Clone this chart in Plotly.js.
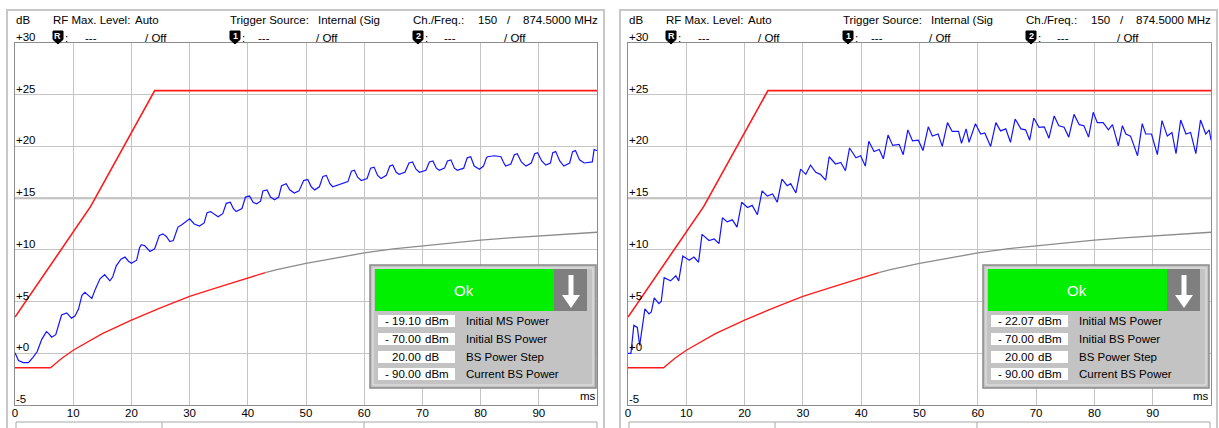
<!DOCTYPE html>
<html><head><meta charset="utf-8">
<script src="https://cdn.plot.ly/plotly-3.0.1.min.js"></script>
<style>html,body{margin:0;padding:0;background:#fff;overflow:hidden}#chart{width:1219px;height:428px}</style>
</head><body><div id="chart"></div>
<script>
// ---------------- data ----------------
const xTickVals = [0,10,20,30,40,50,60,70,80,90];
const xTickText = ['0','10','20','30','40','50','60','70','80','90'];
const yTickVals = [30,25,20,15,10,5,0,-5];
const yTickText = ['+30','+25','+20','+15','+10','+5','+0','-5'];

const upperLimitMs = [0, 13, 24, 100];
const upperLimitDb = [3.5, 14.2, 25.4, 25.4];

const lowerLimitMs = [0,6.1,8,10,15,20,25,30,35,40,43,45,50,55,60,65,70,75,80,85,90,95,100];
const lowerLimitDb = [-1.4,-1.4,-0.5,0.3,1.9,3.2,4.4,5.5,6.4,7.3,7.8,8.1,8.7,9.2,9.7,10.1,10.4,10.7,10.95,11.15,11.35,11.55,11.7];
const lowerRedUntilMs = 43;

const leftMeasMs = [0,0.6,1.4,2.3,3.1,3.8,4.6,5.4,5.8,6.3,7.0,7.5,8.0,8.9,9.7,10.3,10.9,11.5,12.0,12.6,13.2,13.8,14.6,15.4,16.3,16.8,17.4,18.2,18.9,19.5,20.0,20.9,21.4,21.7,22.3,23.2,24.0,24.8,25.4,26.0,26.6,27.2,28.0,28.6,30.0,30.8,31.7,32.5,33.0,33.6,34.3,34.9,35.7,36.3,37.0,37.5,38.0,39.0,39.6,40.3,40.9,41.5,42.2,42.6,43.3,43.9,44.6,45.3,45.8,46.6,47.2,48.0,48.8,49.6,50.3,50.9,51.5,52.3,52.9,53.5,54.1,54.6,57.2,57.8,58.3,58.9,59.5,60.5,61.1,61.7,62.3,62.9,63.8,64.4,64.9,65.5,66.0,67.0,67.7,68.3,68.9,69.5,70.6,71.2,71.8,72.4,72.9,73.8,74.3,74.9,75.5,76.0,77.1,77.7,78.3,78.9,79.8,80.5,81.0,81.2,82.4,83.5,83.9,84.3,85.2,85.8,86.3,87.0,87.8,88.7,89.3,89.8,90.5,91.2,92.0,92.4,92.9,93.6,94.3,95.3,95.8,96.3,97.0,97.8,99.2,99.5,100.0];
const leftMeasDb = [0.05,-0.7,-0.9,-0.9,-0.4,0.15,1.35,2.1,1.9,1.55,1.8,2.8,3.7,3.9,3.4,3.6,4.25,5.6,5.9,5.6,5.3,6.2,7.2,7.6,7.0,7.4,8.45,9.1,9.3,8.9,8.7,9.0,10.2,10.5,10.4,9.85,10.1,11.4,11.55,11.3,10.8,10.9,12.2,12.4,13.0,12.5,12.3,12.6,13.6,13.7,13.4,13.2,13.5,14.5,14.6,14.0,13.7,14.0,15.1,15.2,14.6,14.45,14.7,15.7,15.8,15.1,14.85,15.1,16.2,16.4,15.8,15.5,15.7,16.7,16.8,16.1,15.8,16.1,17.1,17.2,16.4,16.1,16.6,17.6,17.7,17.0,16.7,16.9,17.9,18.0,17.2,16.9,17.2,18.1,18.2,17.5,17.3,17.5,18.4,18.5,17.8,17.5,17.7,18.5,18.6,17.9,17.7,17.9,18.6,18.7,17.9,17.7,17.9,18.9,19.0,18.1,17.8,18.1,18.9,19.0,19.1,19.0,18.5,18.1,18.3,19.2,19.3,18.5,18.1,18.4,19.3,19.4,18.6,18.2,18.4,19.4,19.5,18.6,18.1,18.4,19.5,19.6,18.7,18.4,18.5,19.7,19.6];

const rightMeasMs = [0,0.5,1.0,1.6,2.0,2.5,2.9,3.6,4.0,4.5,5.3,5.7,6.2,7.3,8.2,8.7,9.4,10.5,11.3,12.1,12.7,13.9,14.8,15.6,16.2,17.0,17.9,18.7,19.5,20.5,21.3,22.2,23.0,23.9,24.8,25.6,26.4,27.3,27.9,28.8,29.6,30.5,31.3,32.2,33.0,33.9,34.5,35.6,36.5,37.3,38.0,39.1,39.9,40.7,41.3,42.2,43.1,43.8,44.6,45.4,46.5,47.2,48.0,48.8,49.8,50.6,51.5,52.2,53.2,53.9,54.8,55.6,56.7,57.2,58.0,58.5,59.6,60.5,61.2,62.2,63.1,63.9,64.8,65.6,66.4,67.4,68.2,68.9,69.6,70.5,71.4,72.2,73.1,73.9,74.8,75.6,76.5,77.4,78.2,79.0,79.8,80.5,81.5,82.4,83.1,84.1,84.8,85.4,86.2,86.8,87.4,88.2,88.8,89.8,90.8,91.6,92.5,93.3,94.0,94.8,95.7,96.5,97.4,98.2,99.1,99.7,100.0];
const rightMeasDb = [0.0,0.0,2.7,2.5,0.75,2.5,4.3,3.8,4.0,5.35,4.8,5.0,7.3,7.0,7.5,7.0,9.4,9.0,9.3,8.8,11.5,10.9,11.05,10.6,13.1,12.7,12.9,12.2,14.6,14.1,14.3,13.4,15.7,15.2,15.4,14.6,16.85,16.2,16.4,15.5,17.8,17.3,18.2,17.5,17.3,16.75,19.0,18.3,18.45,17.65,19.85,18.9,19.1,18.1,20.5,19.5,19.7,18.8,21.1,20.1,20.2,19.2,21.6,20.55,20.6,19.6,21.9,21.0,21.2,20.0,22.3,21.45,21.45,20.3,21.7,20.4,22.2,21.2,21.3,20.0,22.3,21.5,21.7,20.4,22.65,21.7,21.6,20.6,22.75,21.85,21.9,20.8,22.95,22.0,21.85,20.9,23.1,22.1,22.0,20.9,23.3,22.3,22.3,21.6,22.1,20.05,22.0,21.2,21.0,20.05,19.1,22.2,21.2,21.2,19.2,22.5,21.0,21.35,19.3,22.55,21.2,21.35,19.3,22.55,21.2,21.6,20.6];

const headerRow1Texts = ['dB','RF Max. Level:','Auto','Trigger Source:','Internal (Sig','Ch./Freq.:','150','/','874.5000 MHz'];
const markerLabels = ['R','1','2'];
const markerValues = ['---','---','---'];
const markerStates = ['/ Off','/ Off','/ Off'];
const xUnitLabel = 'ms';

const dialogStatus = 'Ok';
const dialogLabels = ['Initial MS Power','Initial BS Power','BS Power Step','Current BS Power'];
const dialogUnits = ['dBm','dBm','dB','dBm'];
const leftDialogValues = ['- 19.10','- 70.00','20.00','- 90.00'];
const rightDialogValues = ['- 22.07','- 70.00','20.00','- 90.00'];

// ---------------- layout helpers ----------------
const W = 1219, H = 428;
const X = px => px / W;
const Y = py => 1 - py / H;
const FONT = 'Liberation Sans, Arial, sans-serif';
const FS = 11.5;
const OFFSET = 613; // right panel pixel offset
const PAD = 2;      // annotation inner padding compensation

const panels = [
  {xa:'x', ya:'y', off:0, meas:[leftMeasMs,leftMeasDb], dlg:leftDialogValues},
  {xa:'x2', ya:'y2', off:OFFSET, meas:[rightMeasMs,rightMeasDb], dlg:rightDialogValues}
];

const traces = [];
const shapes = [];
const annotations = [];

function txt(text, px, py, opts) {
  const o = opts || {};
  const anchor = o.xanchor || 'left';
  const adj = anchor === 'left' ? -PAD : (anchor === 'right' ? PAD : 0);
  annotations.push(Object.assign({
    text: text, x: X(px + adj), y: Y(py), xref:'paper', yref:'paper',
    xanchor:'left', yanchor:'middle', showarrow:false,
    font:{family:FONT, size:FS, color:'#000'}
  }, o));
}

const redIdx = lowerLimitMs.map((m,i)=>i).filter(i=>lowerLimitMs[i] <= lowerRedUntilMs);
const grayIdx = lowerLimitMs.map((m,i)=>i).filter(i=>lowerLimitMs[i] >= lowerRedUntilMs);

panels.forEach(p => {
  const o = p.off;
  traces.push({x:redIdx.map(i=>lowerLimitMs[i]), y:redIdx.map(i=>lowerLimitDb[i]),
    xaxis:p.xa, yaxis:p.ya, mode:'lines', line:{color:'#ff1a1a', width:1.3}, hoverinfo:'skip'});
  traces.push({x:grayIdx.map(i=>lowerLimitMs[i]), y:grayIdx.map(i=>lowerLimitDb[i]),
    xaxis:p.xa, yaxis:p.ya, mode:'lines', line:{color:'#8c8c8c', width:1.3}, hoverinfo:'skip'});
  traces.push({x:upperLimitMs, y:upperLimitDb, xaxis:p.xa, yaxis:p.ya, mode:'lines',
    line:{color:'#ff1a1a', width:1.6}, hoverinfo:'skip'});
  traces.push({x:p.meas[0], y:p.meas[1], xaxis:p.xa, yaxis:p.ya, mode:'lines',
    line:{color:'#1414ff', width:1.2}, hoverinfo:'skip'});

  // outer panel frame
  shapes.push({type:'rect', xref:'paper', yref:'paper', x0:X(7+o), x1:X(604+o), y0:Y(445), y1:Y(10),
    line:{color:'#c8c8c8', width:2}, layer:'below'});
  // bottom strip
  shapes.push({type:'rect', xref:'paper', yref:'paper', x0:X(16+o), x1:X(597+o), y0:Y(445), y1:Y(422),
    line:{color:'#a8a8a8', width:1}, layer:'below'});
  [162,364].forEach(d => shapes.push({type:'line', xref:'paper', yref:'paper', x0:X(d+o), x1:X(d+o), y0:Y(422), y1:Y(430),
    line:{color:'#a8a8a8', width:1}, layer:'below'}));
  // centre reference line at +15
  shapes.push({type:'line', xref:p.xa, yref:p.ya, x0:0, x1:100, y0:15, y1:15, line:{color:'#b4b4b4', width:2}, layer:'below'});

  // header row 1
  const r1x = [16,53,135,230,318,413,478,507];
  headerRow1Texts.forEach((t,i) => {
    if (i < r1x.length) txt(t, r1x[i]+o, 20);
    else txt(t, 598+o, 20, {xanchor:'right'});
  });
  // header row 2: markers
  const mx = [53,230,413], vx = [85,258,444], sx = [145,316,504];
  markerLabels.forEach((m,i) => {
    const x0 = mx[i]+o;
    shapes.push({type:'path', xref:'paper', yref:'paper',
      path:`M${X(x0)},${Y(31)} L${X(x0+10)},${Y(31)} L${X(x0+10)},${Y(39.5)} L${X(x0+5)},${Y(44)} L${X(x0)},${Y(39.5)} Z`,
      fillcolor:'#000', line:{color:'#000', width:1}, layer:'above'});
    txt('<b>'+m+'</b>', x0+5, 36, {xanchor:'center', font:{family:FONT, size:9, color:'#fff'}});
    txt(':', x0+12, 38);
    txt(markerValues[i], vx[i]+o, 38);
    txt(markerStates[i], sx[i]+o, 38);
  });

  // y tick labels (positioned through the y axis)
  yTickVals.forEach((v,i) => annotations.push({
    text: yTickText[i], x: X(14+o), xref:'paper', y: v, yref: p.ya,
    xanchor:'left', yanchor:'bottom', yshift:-2, showarrow:false,
    font:{family:FONT, size:FS, color:'#000'}
  }));
  // x unit
  txt(xUnitLabel, 596+o, 396, {xanchor:'right'});

  // dialog
  shapes.push({type:'rect', xref:'paper', yref:'paper', x0:X(370+o), x1:X(596+o), y0:Y(388), y1:Y(265),
    fillcolor:'#c3c3c3', line:{color:'#8a8a8a', width:1.5}, layer:'above'});
  shapes.push({type:'rect', xref:'paper', yref:'paper', x0:X(373+o), x1:X(593+o), y0:Y(385), y1:Y(268),
    fillcolor:'rgba(0,0,0,0)', line:{color:'#e6e6e6', width:1}, layer:'above'});
  shapes.push({type:'rect', xref:'paper', yref:'paper', x0:X(375+o), x1:X(554+o), y0:Y(311), y1:Y(269),
    fillcolor:'#00f000', line:{width:0}, layer:'above'});
  shapes.push({type:'rect', xref:'paper', yref:'paper', x0:X(554+o), x1:X(587+o), y0:Y(311), y1:Y(269),
    fillcolor:'#7f7f7f', line:{width:0}, layer:'above'});
  const ax = 571+o;
  shapes.push({type:'path', xref:'paper', yref:'paper',
    path:`M${X(ax-2.5)},${Y(275)} L${X(ax+2.5)},${Y(275)} L${X(ax+2.5)},${Y(295)} L${X(ax+9)},${Y(295)} L${X(ax)},${Y(308)} L${X(ax-9)},${Y(295)} L${X(ax-2.5)},${Y(295)} Z`,
    fillcolor:'#fff', line:{width:0}, layer:'above'});
  txt(dialogStatus, 464+o, 290, {xanchor:'center', font:{family:FONT, size:15, color:'#fff'}});
  const rowTop = [315,333,351,368];
  dialogLabels.forEach((lab,i) => {
    shapes.push({type:'rect', xref:'paper', yref:'paper', x0:X(378+o), x1:X(455+o), y0:Y(rowTop[i]+12), y1:Y(rowTop[i]),
      fillcolor:'#fff', line:{width:0}, layer:'above'});
    txt(p.dlg[i], 421+o, rowTop[i]+6, {xanchor:'right'});
    txt(dialogUnits[i], 425+o, rowTop[i]+6);
    txt(lab, 466+o, rowTop[i]+6);
  });
});

const axisCommon = {
  range:[0,100], tickvals:xTickVals, ticktext:xTickText, ticks:'', showgrid:true,
  gridcolor:'#c4c4c4', gridwidth:1, zeroline:false, showline:true, mirror:true,
  linecolor:'#8c8c8c', linewidth:1, tickfont:{family:FONT, size:FS, color:'#000'},
  ticklabelstandoff:-3, fixedrange:true, automargin:false
};
const yCommon = {
  range:[-5,30], tickvals:yTickVals, showticklabels:false, ticks:'', showgrid:true,
  gridcolor:'#c4c4c4', gridwidth:1, zeroline:false, showline:true, mirror:true,
  linecolor:'#8c8c8c', linewidth:1, fixedrange:true, automargin:false
};

const layout = {
  width:W, height:H, margin:{l:0,r:0,t:0,b:0}, paper_bgcolor:'#fff', plot_bgcolor:'#fff',
  showlegend:false,
  xaxis: Object.assign({}, axisCommon, {domain:[X(15), X(597)], anchor:'y'}),
  yaxis: Object.assign({}, yCommon, {domain:[Y(405), Y(43)], anchor:'x'}),
  xaxis2: Object.assign({}, axisCommon, {domain:[X(628), X(1211)], anchor:'y2'}),
  yaxis2: Object.assign({}, yCommon, {domain:[Y(405), Y(43)], anchor:'x2'}),
  shapes: shapes, annotations: annotations
};

Plotly.newPlot('chart', traces, layout, {staticPlot:true, displayModeBar:false});
</script></body></html>
